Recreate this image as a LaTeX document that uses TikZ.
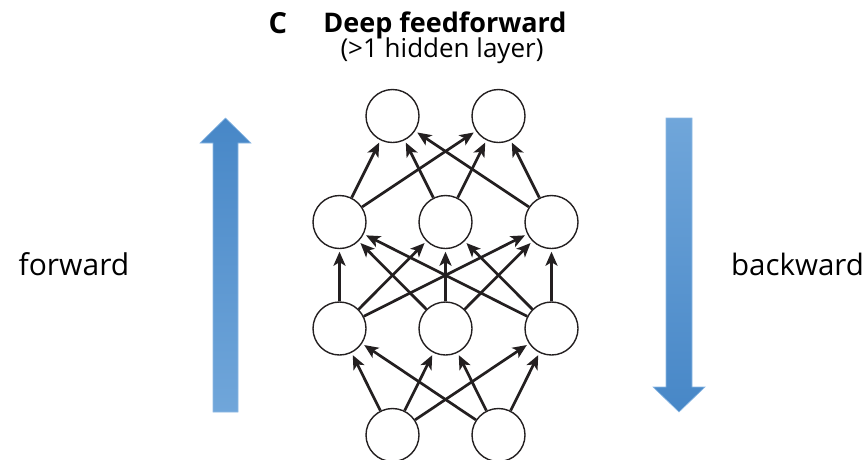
\documentclass[tikz,border=0pt]{standalone}
\usepackage{fontspec}
\setmainfont{Open Sans}
\usetikzlibrary{arrows.meta}
\definecolor{arrdark}{HTML}{4787C7}
\definecolor{arrlight}{HTML}{70A6DA}
\definecolor{arredge}{HTML}{8DB9E4}
\definecolor{ink}{HTML}{231F20}
\tikzset{
  neuron/.style={circle, draw=ink, line width=1.4pt, fill=white, minimum size=53pt, inner sep=0pt},
  conn/.style={draw=ink, line width=2.7pt, shorten >=2.5pt, -{Stealth[length=14pt,width=12pt,inset=3.5pt]}},
  fatarrow/.style={draw=arredge, line width=0.6pt},
  lbl/.style={inner sep=0pt, anchor=base}
}
\begin{document}
\begin{tikzpicture}[x=1pt,y=-1pt]
\useasboundingbox (0,0) rectangle (867,459);
% title
\node[lbl, anchor=base west, font=\fontsize{29}{34}\selectfont\bfseries] (tc) at (268.5,33) {C};
\node[lbl, font=\fontsize{27}{32}\selectfont\bfseries] (tt) at (445,32) {Deep feedforward};
\node[lbl, font=\fontsize{26}{31}\selectfont] (ts) at (442,57) {(>1 hidden layer)};
% side labels
\node[lbl, font=\fontsize{30}{34}\selectfont] (fw) at (74,275) {forward};
\node[lbl, font=\fontsize{29.5}{34}\selectfont] (bw) at (797.5,275) {backward};
% big arrows
\shade[fatarrow, top color=arrdark, bottom color=arrlight]
  (213,412) -- (213,143) -- (200,143) -- (225.5,118) -- (251,143) -- (238,143) -- (238,412) -- cycle;
\shade[fatarrow, top color=arrlight, bottom color=arrdark]
  (666,118) -- (666,387) -- (653,387) -- (679,412) -- (705,387) -- (692,387) -- (692,118) -- cycle;
% neurons
\node[neuron] (o1) at (392.5,116) {};
\node[neuron] (o2) at (498.5,116) {};
\node[neuron] (ha) at (339.5,222) {};
\node[neuron] (hb) at (445.5,222) {};
\node[neuron] (hc) at (551.5,222) {};
\node[neuron] (ga) at (339.5,328.5) {};
\node[neuron] (gb) at (445.5,328.5) {};
\node[neuron] (gc) at (551.5,328.5) {};
\node[neuron] (i1) at (392.5,435) {};
\node[neuron] (i2) at (498.5,435) {};
% connections
\foreach \s in {i1,i2}{\foreach \t in {ga,gb,gc}{\draw[conn] (\s) -- (\t);}}
\foreach \s in {ga,gb,gc}{\foreach \t in {ha,hb,hc}{\draw[conn] (\s) -- (\t);}}
\foreach \s in {ha,hb,hc}{\foreach \t in {o1,o2}{\draw[conn] (\s) -- (\t);}}
\end{tikzpicture}
\end{document}
